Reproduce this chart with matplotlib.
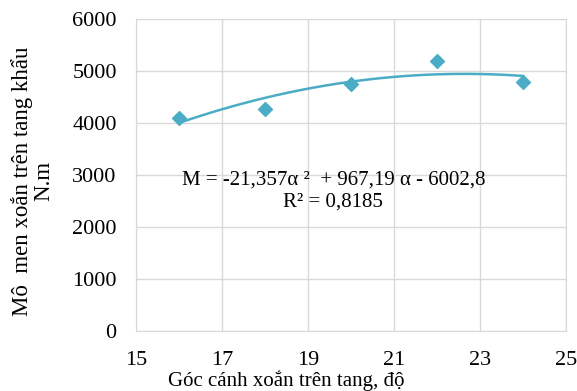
import numpy as np
import matplotlib
matplotlib.use("Agg")
import matplotlib.pyplot as plt

plt.rcParams['font.family'] = ['Liberation Serif', 'DejaVu Serif']

goc = [16, 18, 20, 22, 24]
mo_men = [4100, 4280, 4760, 5200, 4790]
coef = [-21.357, 967.19, -6002.8]

color = '#4BACC6'

fig = plt.figure(figsize=(5.77, 3.91), dpi=100)
ax = fig.add_axes([0.236, 0.153, 0.745, 0.798])

a = np.linspace(goc[0], goc[-1], 100)
ax.plot(a, np.polyval(coef, a), color=color, lw=1.8, zorder=2)
ax.scatter(goc, mo_men, marker='D', s=50, color=color, zorder=3)

ax.set_xlim(15, 25)
ax.set_ylim(0, 6000)
ax.set_xticks([15, 17, 19, 21, 23, 25])
ax.set_yticks(range(0, 6001, 1000))
ax.grid(True, color='#d9d9d9', lw=1)
ax.set_axisbelow(True)
for s in ax.spines.values():
    s.set_color('#d9d9d9')
ax.tick_params(length=0, labelsize=16, pad=14)

ax.set_xlabel('Góc cánh xoắn trên tang, độ', fontsize=15, va='top')
ax.xaxis.set_label_coords(0.349, -0.125)
ax.set_ylabel('Mô  men xoắn trên tang khẩu\nN.m', fontsize=16.5,
              linespacing=1.05)
ax.yaxis.set_label_coords(-0.19, 0.48)

fig.text(0.315, 1 - 180 / 391, 'M = -21,357α ²  + 967,19 α - 6002,8',
         fontsize=15, va='center')
fig.text(283 / 577, 1 - 202 / 391, 'R² = 0,8185', fontsize=15, va='center')

fig.savefig('out.png', dpi=100)
